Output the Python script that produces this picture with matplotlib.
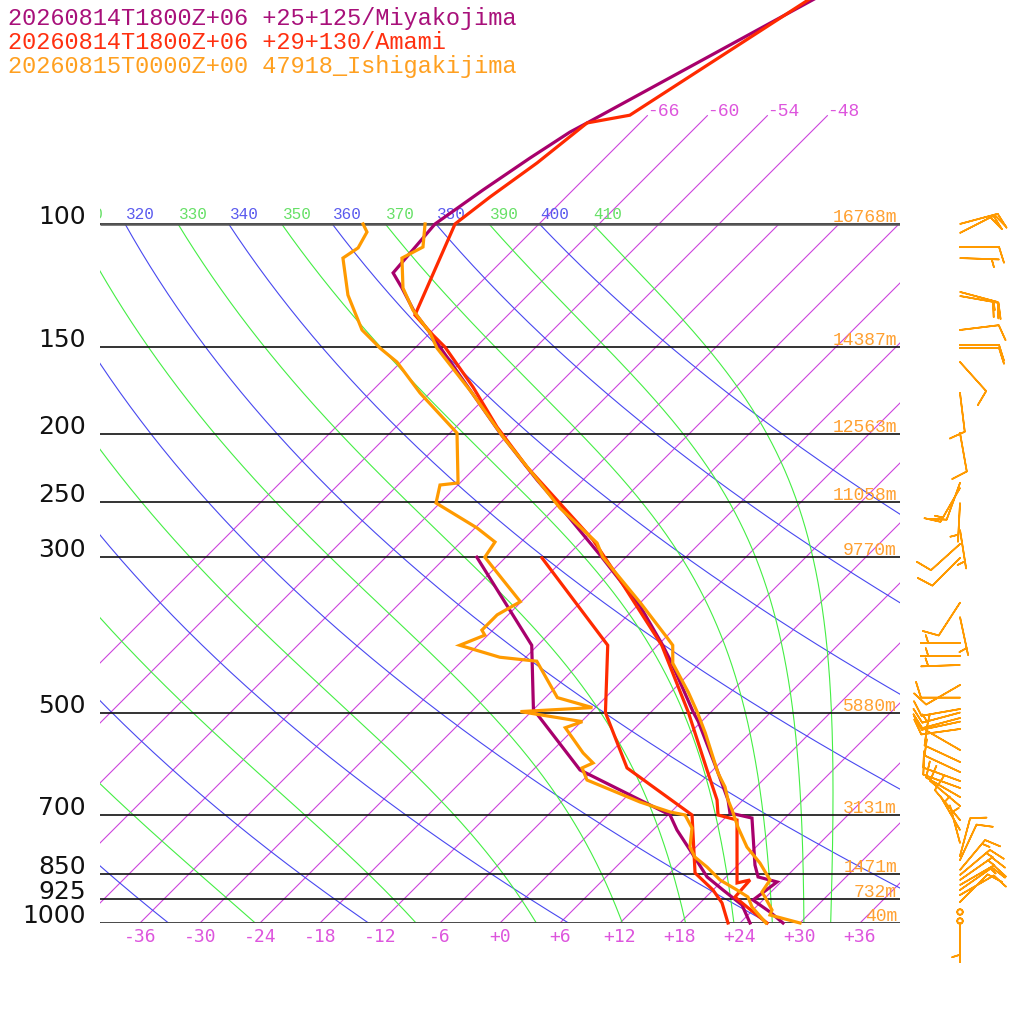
import numpy as np
import matplotlib
matplotlib.use("Agg")
import matplotlib.pyplot as plt
from matplotlib.transforms import offset_copy

# ---------------- data ----------------
titles = ["20260814T1800Z+06 +25+125/Miyakojima",
          "20260814T1800Z+06 +29+130/Amami",
          "20260815T0000Z+00 47918_Ishigakijima"]

# Miyakojima (model) temperature / dewpoint  [hPa, degC]
miyako_p = [1000, 964.4, 927.1, 873.5, 859.2, 826.2, 707.7, 696.1, 666.8, 604.1, 515.2, 500,
            425.0, 400.6, 352.7, 299.7, 256.6, 232.4, 199.1, 172.8, 150, 143.2, 134.1, 123.5,
            117.5, 100, 89.4, 80.5, 73.9, 71.7, 44.8]
miyako_t = [28.3, 25.9, 23.0, 23.6, 21.2, 19.7, 14.7, 12.0, 10.5, 6.4, -0.3, -1.7,
            -8.8, -11.5, -17.6, -26.4, -35.0, -40.6, -49.0, -56.3, -63.6, -66.0, -69.5, -73.3,
            -75.7, -76.4, -75.0, -73.5, -72.1, -71.3, -59.4]
miyako_td_p = [1000, 942.4, 897.0, 859.2, 794.2, 736.2, 700.6, 604.1, 503.3, 495.1, 400.6, 299.7]
miyako_td = [25.0, 22.4, 19.0, 16.1, 12.2, 8.4, 6.2, -7.3, -17.1, -18.0, -24.6, -38.9]

# Amami (model)
amami_p = [1000, 948.6, 918.0, 867.9, 876.4, 712.3, 700.6, 666.8, 604.1, 500, 400.6, 323.1,
           283.2, 248.3, 222.7, 195.2, 171.1, 150, 144.2, 135.0, 100, 91.5, 81.8, 71.7, 69.9, 44.8]
amami_t = [26.7, 23.1, 20.9, 20.7, 19.7, 13.4, 11.0, 9.4, 5.4, -2.2, -11.6, -22.3,
           -29.0, -36.6, -42.9, -49.9, -56.3, -63.1, -65.5, -69.3, -74.4, -73.6, -72.3, -71.3, -67.8, -60.4]
amami_td_p = [1000, 936.2, 897.0, 848.0, 700.6, 600.1, 500, 400.6, 300.5]
amami_td = [22.8, 20.2, 18.0, 14.5, 8.4, -2.8, -10.5, -17.0, -32.3]

# Ishigakijima (radiosonde 47918)
ishi_p = [1000, 974.0, 958.1, 918.0, 903.0, 867.9, 820.8, 778.7, 729.1, 689.1, 666.8, 638.9,
          610.1, 534.4, 500, 468.1, 425.0, 400.6, 390.1, 348.2, 299.7, 286.0, 254.9, 234.7,
          201.7, 174.5, 150.5, 143.2, 132.8, 123.5, 111.9, 107.9, 100]
ishi_t = [30.0, 26.2, 25.9, 23.9, 23.1, 22.7, 20.0, 17.1, 14.2, 11.9, 10.5, 8.9,
          6.8, 1.5, -1.3, -4.2, -8.7, -10.5, -11.9, -18.0, -26.3, -28.3, -35.5, -40.0,
          -48.3, -55.8, -63.8, -66.0, -70.0, -73.2, -76.3, -75.3, -77.4]
ishi_td_p = [1000, 948.6, 918.0, 897.0, 867.9, 831.6, 804.8, 778.7, 731.3, 700.6, 693.7, 671.3,
             624.4, 600.1, 590.3, 571.1, 525.6, 515.2, 498.4, 491.9, 476.0, 422.2, 416.7, 400.6,
             387.5, 381.1, 362.4, 347.0, 323.1, 299.7, 285.1, 272.2, 250.7, 236.3, 234.7, 199.1,
             174.5, 157.6, 150.5, 148.0, 141.8, 126.4, 111.9, 108.2, 102.7, 100]
ishi_td = [26.6, 23.6, 22.2, 20.4, 17.7, 15.1, 12.9, 11.4, 9.7, 7.7, 5.9, 1.9,
           -5.6, -7.3, -6.7, -8.7, -13.0, -11.9, -19.1, -12.3, -16.8, -22.5, -26.6, -31.8,
           -30.3, -31.1, -31.1, -30.1, -34.0, -38.1, -38.6, -41.8, -48.4, -49.8, -48.2, -53.3,
           -61.0, -66.4, -69.5, -70.5, -73.1, -78.0, -82.2, -81.7, -82.4, -83.6]

# standard levels and their heights (Ishigakijima)
std_levels = [100, 150, 200, 250, 300, 500, 700, 850, 925, 1000]
std_heights = ["16768m", "14387m", "12563m", "11058m", "9770m", "5880m", "3131m", "1471m", "732m", "40m"]

temp_ticks = list(range(-36, 37, 6))
isotherms = list(range(-66, 37, 6))
top_isotherms = [-66, -60, -54, -48]
dry_thetas = list(range(240, 401, 20))
moist_thetas = list(range(250, 411, 20))

# winds (Ishigakijima): pressure hPa, direction deg, speed kt
wind_p = [100.0, 103.0, 107.9, 111.9, 125.1, 126.8, 141.8, 149.0, 150.5, 157.6, 174.5, 199.1,
          234.7, 238.6, 250.7, 274.0, 287.0, 300.5, 348.2, 365.0, 397.6, 415.0, 427.5, 456.6,
          476.0, 494.2, 500.0, 509.1, 515.2, 527.8, 565.6, 588.4, 608.2, 626.4, 641.0, 660.4,
          680.2, 712.3, 736.2, 768.4, 802.0, 812.6, 839.7, 853.8, 867.9, 882.3, 897.0, 911.9,
          933.2, 964.4, 993.4, 1000.0]
wind_dir = [75, 63, 90, 92, 105, 100, 83, 90, 90, 138, 173, 170,
            200, 210, 183, 171, 228, 225, 213, 168, 270, 270, 268, 240,
            270, 260, 255, 255, 258, 262, 300, 295, 295, 290, 290, 300,
            310, 320, 330, 345, 15, 25, 40, 50, 55, 60, 55, 60,
            45, 0, 0, 180]
wind_kt = [20, 20, 10, 5, 20, 15, 10, 10, 10, 10, 10, 10,
           10, 15, 5, 5, 10, 10, 10, 5, 5, 5, 5, 10,
           10, 10, 15, 10, 10, 10, 10, 10, 10, 10, 10, 10,
           10, 10, 5, 5, 10, 10, 15, 15, 15, 15, 10, 10,
           10, 0, 0, 5]

# ---------------- styles ----------------
C_MIYA = "#A8006C"
C_AMAMI = "#FF2A00"
C_ISHI = "#FF9A00"
C_TITLE = ["#A8107A", "#FF3010", "#FFA020"]
C_ISO = "#CC44DD"
C_ISO_LAB = "#DD55DD"
C_DRY = "#4848F0"
C_DRY_LAB = "#5A5AEE"
C_MOIST = "#44EE44"
C_MOIST_LAB = "#66E066"
C_HGT = "#FFA030"

SKEW = 30.36                       # degC shift per e-fold of pressure (45 deg skew)
P_BOT = 1000.0
P_TOP = 1000.0 * np.exp(-923 / 303.6)
P_ISO_TOP = 70.0


def skx(t, p):
    return np.asarray(t, float) + SKEW * np.log(1000.0 / np.asarray(p, float))


def moist_adiabats(thetas, p_start=100.0, p_end=1000.0, n=1800):
    Rd, cp, Lv, eps = 287.04, 1005.7, 2.501e6, 0.622
    ps = np.linspace(p_start, p_end, n + 1)
    T = np.array(thetas, float) * (p_start / 1000.0) ** (Rd / cp)

    def rate(T, p):
        es = 6.112 * np.exp(17.67 * (T - 273.15) / (T - 29.65))
        rs = eps * es / (p - es)
        return (Rd * T + Lv * rs) / (p * (cp + Lv ** 2 * rs * eps / (Rd * T ** 2)))

    out = [T.copy()]
    for i in range(n):
        dp = ps[i + 1] - ps[i]
        k1 = rate(T, ps[i])
        k2 = rate(T + dp * k1, ps[i + 1])
        T = T + 0.5 * dp * (k1 + k2)
        out.append(T.copy())
    return ps, np.array(out) - 273.15


fig = plt.figure(figsize=(10.24, 10.24), dpi=100)
fig.patch.set_facecolor("white")
ax = fig.add_axes([100 / 1024, 101 / 1024, 800 / 1024, 923 / 1024])
ax.set_yscale("log")
ax.set_ylim(P_BOT, P_TOP)
ax.set_xlim(-40, 40)
ax.axis("off")

# isotherms
for t in isotherms:
    ptop = P_ISO_TOP if t in top_isotherms else 100.0
    pp = np.array([P_BOT, ptop])
    ax.plot(skx(t, pp), pp, color=C_ISO, lw=0.8, zorder=1)
for t in top_isotherms:
    ax.text(skx(t, P_ISO_TOP), P_ISO_TOP, f"{t:d}", color=C_ISO_LAB, fontsize=13,
            family="Liberation Mono", ha="left", va="baseline")

# dry adiabats
pp = np.logspace(np.log10(100), np.log10(1000), 300)
lab_tr = offset_copy(ax.transData, fig=fig, x=1, y=5, units="dots")
for th in dry_thetas:
    tt = th * (pp / 1000.0) ** 0.2857 - 273.15
    ax.plot(skx(tt, pp), pp, color=C_DRY, lw=0.8, zorder=1)
    xl = float(skx(tt[0], 100))
    if xl > -43.5:
        ax.text(xl, 100, f"{th}", color=C_DRY_LAB, fontsize=11.5,
                family="Liberation Mono", ha="left", va="baseline", transform=lab_tr, clip_on=True)

# moist adiabats
mp, mt = moist_adiabats(moist_thetas)
for i, th in enumerate(moist_thetas):
    ax.plot(skx(mt[:, i], mp), mp, color=C_MOIST, lw=0.8, zorder=1)
    xl = float(skx(mt[0, i], 100))
    if xl > -43.5:
        ax.text(xl, 100, f"{th}", color=C_MOIST_LAB, fontsize=11.5,
                family="Liberation Mono", ha="left", va="baseline", transform=lab_tr, clip_on=True)

# pressure lines
ax.hlines(std_levels, -40, 40, colors="#111111", lw=1.2, zorder=2)
ax.hlines([100, 1000], -40, 40, colors="#555555", lw=1.8, zorder=2)

# pressure labels
for p in std_levels:
    ax.text(-41.4, p, f"{p}", fontsize=18, family="DejaVu Sans", color="#111111",
            ha="right", va="baseline", clip_on=False)

# height labels
h_tr = offset_copy(ax.transData, fig=fig, x=0, y=2, units="dots")
for p, h in zip(std_levels, std_heights):
    ax.text(39.7, p, h, color=C_HGT, fontsize=13, family="Liberation Mono",
            ha="right", va="baseline", transform=h_tr)

# temperature labels along bottom
b_tr = offset_copy(ax.transData, fig=fig, x=0, y=-14, units="dots")
for t in temp_ticks:
    ax.text(t, 1000, f"{t:+d}" if t >= 0 else f"{t:d}", color=C_ISO_LAB, fontsize=13,
            family="DejaVu Sans Mono", ha="center", va="center", transform=b_tr, clip_on=False)

# profiles
for (p, t, pd, td, c) in [(miyako_p, miyako_t, miyako_td_p, miyako_td, C_MIYA),
                          (amami_p, amami_t, amami_td_p, amami_td, C_AMAMI),
                          (ishi_p, ishi_t, ishi_td_p, ishi_td, C_ISHI)]:
    ax.plot(skx(td, pd), pd, color=c, lw=2.3, zorder=5, clip_on=False, solid_joinstyle="miter")
    ax.plot(skx(t, p), p, color=c, lw=2.3, zorder=5, clip_on=False, solid_joinstyle="miter")

# wind barbs
wd = np.deg2rad(np.array(wind_dir, float))
ws = np.array(wind_kt, float)
u = -ws * np.sin(wd)
v = -ws * np.cos(wd)
ax.barbs(np.full(len(wind_p), 46.0), wind_p, u, v, length=7.5, color=C_ISHI,
         linewidth=1.2, clip_on=False, zorder=6, sizes=dict(emptybarb=0.07))

# titles
for i, (s, c) in enumerate(zip(titles, C_TITLE)):
    fig.text(8 / 1024, 1 - (25 + 24 * i) / 1024, s, color=c, fontsize=17,
             family="Liberation Mono", ha="left", va="baseline")

fig.savefig("out.png", dpi=100, facecolor="white")
